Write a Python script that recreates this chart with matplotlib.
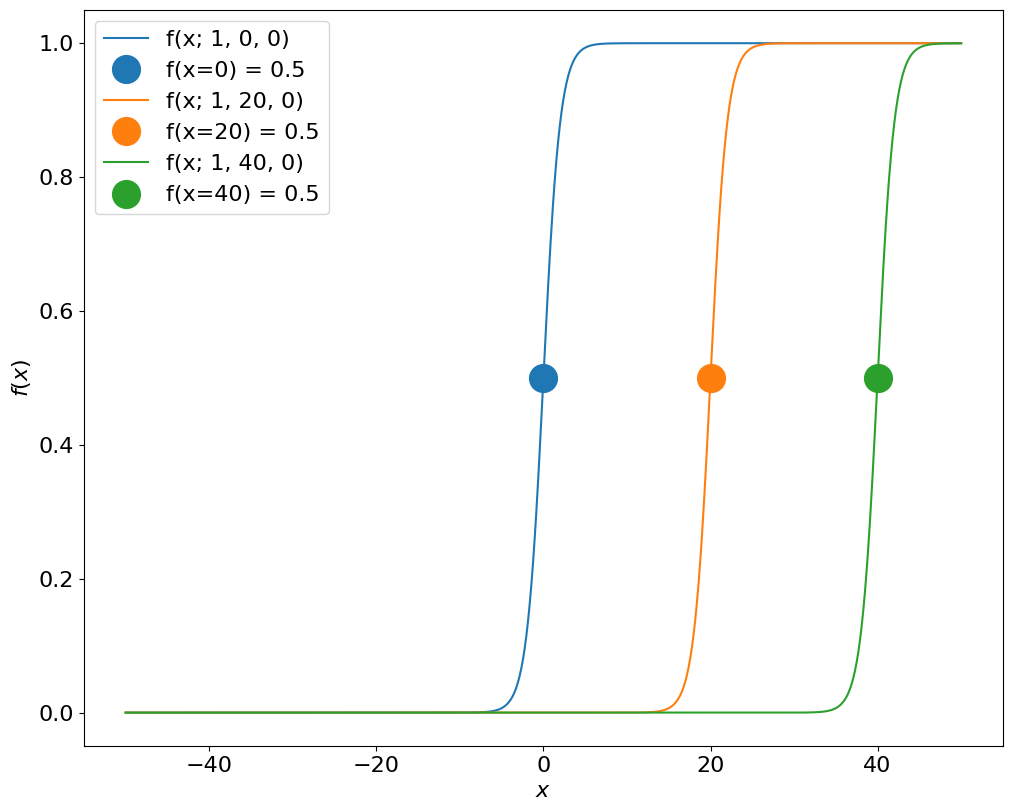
import numpy as np
import matplotlib
matplotlib.use("Agg")
import matplotlib.pyplot as plt

k_vals = [1, 1, 1]
x0_vals = [0, 20, 40]
c_vals = [0, 0, 0]
mid_values = [0.5, 0.5, 0.5]
colors = ["#1f77b4", "#ff7f0e", "#2ca02c"]
x_min, x_max = -50, 50

plt.rcParams["font.size"] = 16
fig = plt.figure(figsize=(10.11, 8.11), dpi=100)
ax = fig.add_axes([0.083, 0.080, 0.909, 0.908])

x = np.linspace(x_min, x_max, 1000)
for k, x0, c, m, col in zip(k_vals, x0_vals, c_vals, mid_values, colors):
    y = 1.0 / (1.0 + np.exp(-k * (x - x0))) + c
    ax.plot(x, y, color=col, label=f"f(x; {k}, {x0}, {c})")
    ax.plot([x0], [m], "o", color=col, markersize=20, label=f"f(x={x0}) = {m}")

ax.set_xlabel(r"$x$")
ax.set_ylabel(r"$f(x)$")
ax.legend(loc="upper left")
fig.savefig("out.png", dpi=100)
